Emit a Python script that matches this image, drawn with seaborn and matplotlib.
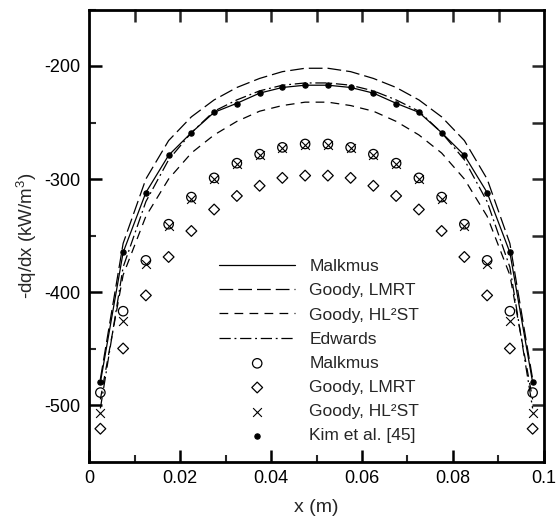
import numpy as np
import pandas as pd
import matplotlib
matplotlib.use("Agg")
import matplotlib.pyplot as plt
import seaborn as sns

# ---- data (half profile, mirrored about x = 0.05) ----
x_half = [0.0025, 0.0075, 0.0125, 0.0175, 0.0225, 0.0275, 0.0325, 0.0375, 0.0425, 0.0475]
x_vals = x_half + [0.1 - v for v in reversed(x_half)]

malkmus_line_half = [-480, -365, -312, -279, -259, -241, -233, -224, -219, -217]
lmrt_line_half    = [-477, -357, -300, -266, -245, -230, -219, -211, -205, -202]
hl2st_line_half   = [-495, -385, -333, -300, -277, -261, -249, -240, -235, -232]
edwards_line_half = [-503, -378, -320, -283, -259, -240, -230, -222, -217, -215]

malkmus_pts_half = [-489, -417, -372, -340, -316, -299, -286, -278, -272, -269]
lmrt_pts_half    = [-521, -450, -403, -369, -346, -327, -315, -306, -299, -297]
hl2st_pts_half   = [-507, -426, -375, -342, -318, -300, -287, -279, -273, -270]
kim_pts_half     = [-480, -365, -312, -279, -259, -241, -234, -224, -219, -217]

def mirror(h):
    return h + list(reversed(h))

series_lines = [
    ("Malkmus", mirror(malkmus_line_half), "-"),
    ("Goody, LMRT", mirror(lmrt_line_half), (0, (11, 4))),
    ("Goody, HL\u00b2ST", mirror(hl2st_line_half), (0, (7, 5))),
    ("Edwards", mirror(edwards_line_half), (0, (9, 3, 1.5, 3))),
]
series_pts = [
    ("Malkmus", mirror(malkmus_pts_half), "o", 46, "none"),
    ("Goody, LMRT", mirror(lmrt_pts_half), "D", 30, "none"),
    ("Goody, HL\u00b2ST", mirror(hl2st_pts_half), "x", 40, "black"),
    ("Kim et al. [45]", mirror(kim_pts_half), "o", 14, "black"),
]

sns.set_style("ticks")
plt.rcParams["font.family"] = ["Liberation Sans", "DejaVu Sans"]
plt.rcParams["mathtext.fontset"] = "custom"
plt.rcParams["mathtext.rm"] = "Liberation Sans"

W, H = 559, 517
fig = plt.figure(figsize=(W / 100, H / 100), dpi=100)
ax = fig.add_axes([89 / W, 1 - 461.5 / H, (544 - 89) / W, (461.5 - 9.5) / H])

handles = []
labels = []
for name, vals, ls in series_lines:
    df = pd.DataFrame({"x": x_vals, "y": vals})
    sns.lineplot(data=df, x="x", y="y", ax=ax, color="black", linewidth=0.9,
                 linestyle=ls, legend=False)
    handles.append(ax.get_lines()[-1])
    labels.append(name)

for name, vals, mk, s, fc in series_pts:
    df = pd.DataFrame({"x": x_vals, "y": vals})
    if mk == "x":
        sns.scatterplot(data=df, x="x", y="y", ax=ax, marker=mk, s=s,
                        color="black", linewidth=0.8, legend=False, zorder=5)
    else:
        sns.scatterplot(data=df, x="x", y="y", ax=ax, marker=mk, s=s,
                        facecolors=fc, edgecolor="black", linewidth=0.9,
                        legend=False, zorder=5)
    handles.append(ax.collections[-1])
    labels.append(name)

ax.set_xlim(0, 0.1)
ax.set_ylim(-550, -150)
ax.set_xticks([0, 0.02, 0.04, 0.06, 0.08, 0.1])
ax.set_xticklabels(["0", "0.02", "0.04", "0.06", "0.08", "0.1"])
ax.set_xticks(np.arange(0.01, 0.1, 0.02), minor=True)
ax.set_yticks([-500, -400, -300, -200])
ax.set_yticklabels(["-500", "-400", "-300", "-200"])
ax.set_yticks([-450, -350, -250, -150], minor=True)

for sp in ax.spines.values():
    sp.set_linewidth(2.0)
    sp.set_color("black")

ax.tick_params(which="major", direction="in", length=9, width=1.8, labelsize=13,
               pad=6, colors="black")
ax.tick_params(which="minor", direction="in", length=5, width=1.5)

# top and right ticks (all full-length)
top = ax.secondary_xaxis("top")
top.set_xticks(np.arange(0.01, 0.1, 0.01))
top.tick_params(direction="in", length=9, width=1.8, labeltop=False)
top.spines["top"].set_visible(False)
right = ax.secondary_yaxis("right")
right.set_yticks(np.arange(-500, -150, 50))
right.tick_params(direction="in", length=9, width=1.8, labelright=False)
right.spines["right"].set_visible(False)

ax.set_xlabel("x (m)", fontsize=14, labelpad=9)
ax.set_ylabel("-dq/dx (kW/m$^3$)", fontsize=13.5, labelpad=4)

leg = ax.legend(handles, labels, loc="upper left",
                bbox_to_anchor=(219 / W, 1 - 259 / H), bbox_transform=fig.transFigure,
                frameon=False, fontsize=12.5, handlelength=4.4, handletextpad=0.8,
                labelspacing=0.52, borderpad=0, borderaxespad=0)

fig.savefig("out.png", dpi=100)
